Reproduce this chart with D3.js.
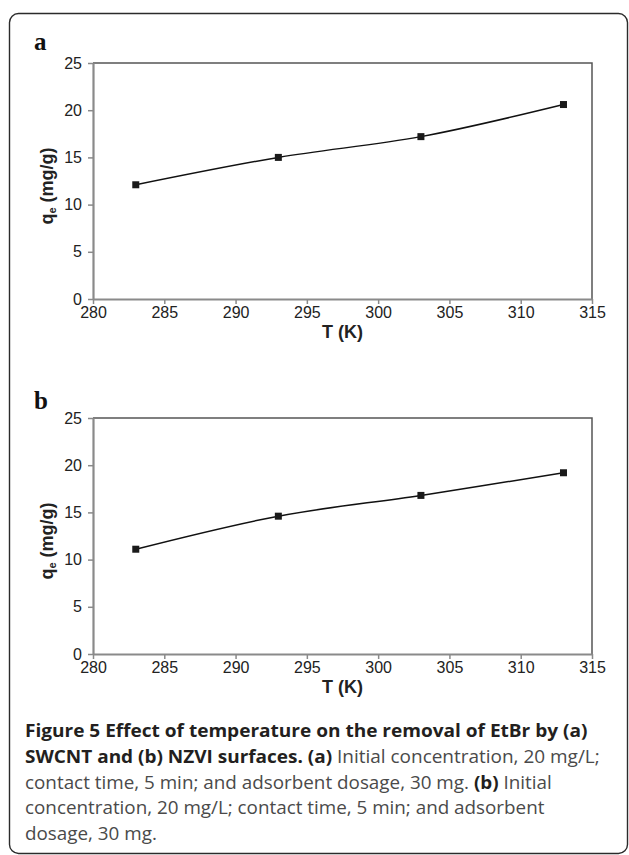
<!DOCTYPE html>
<html>
<head>
<meta charset="utf-8">
<script src="https://cdn.jsdelivr.net/npm/d3@7"></script>
<style>
  html, body { margin: 0; padding: 0; background: #fff; }
  svg { display: block; }
</style>
</head>
<body>
<svg id="chart" width="629" height="855"></svg>
<script>
// ---- Data ----
const temperatures = [283, 293, 303, 313];
const qeSWCNT = [12.1, 15.0, 17.2, 20.6];
const qeNZVI = [11.1, 14.6, 16.8, 19.2];
const xTickValues = [280, 285, 290, 295, 300, 305, 310, 315];
const yTickValues = [0, 5, 10, 15, 20, 25];
const panelLetters = ["a", "b"];
const xLabel = "T (K)";
const captionLines = [
  [["Figure 5 Effect of temperature on the removal of EtBr by (a)", true]],
  [["SWCNT and (b) NZVI surfaces. (a)", true], [" Initial concentration, 20 mg/L;", false]],
  [["contact time, 5 min; and adsorbent dosage, 30 mg. ", false], ["(b)", true], [" Initial", false]],
  [["concentration, 20 mg/L; contact time, 5 min; and adsorbent", false]],
  [["dosage, 30 mg.", false]]
];

// ---- Layout ----
const svg = d3.select("#chart");
const W = 629, H = 855;

svg.append("rect")
  .attr("x", 9.5).attr("y", 13.5)
  .attr("width", 618).attr("height", 840)
  .attr("rx", 9).attr("ry", 9)
  .attr("fill", "#fff").attr("stroke", "#2b2b2b").attr("stroke-width", 1.4);

const panels = [
  { letter: panelLetters[0], values: qeSWCNT, top: 63, bottom: 299, letterY: 50 },
  { letter: panelLetters[1], values: qeNZVI, top: 418, bottom: 654, letterY: 409 }
];
const left = 93, right = 592;
const font = "'Liberation Sans', Arial, Helvetica, sans-serif";

panels.forEach(p => {
  const x = d3.scaleLinear().domain([280, 315]).range([left, right]);
  const y = d3.scaleLinear().domain([0, 25]).range([p.bottom, p.top]);
  const g = svg.append("g");

  // panel letter
  g.append("text")
    .attr("x", 34).attr("y", p.letterY)
    .attr("font-family", "'Liberation Serif', 'Times New Roman', serif")
    .attr("font-weight", "bold").attr("font-size", 25)
    .attr("fill", "#111")
    .text(p.letter);

  // top/right frame
  g.append("path")
    .attr("d", `M${left},${p.top}H${right}V${p.bottom}`)
    .attr("fill", "none").attr("stroke", "#555").attr("stroke-width", 1.5);

  // x axis
  const xAxis = g.append("g")
    .attr("transform", `translate(0,${p.bottom})`)
    .call(d3.axisBottom(x).tickValues(xTickValues).tickSize(5).tickPadding(3).tickSizeOuter(0));
  xAxis.select(".domain").attr("stroke", "#8a8a8a").attr("stroke-width", 2.2);
  xAxis.selectAll(".tick line").attr("stroke", "#8a8a8a").attr("stroke-width", 1.5);
  xAxis.selectAll(".tick text")
    .attr("font-family", font).attr("font-size", 16).attr("fill", "#222");

  // y axis
  const yAxis = g.append("g")
    .attr("transform", `translate(${left},0)`)
    .call(d3.axisLeft(y).tickValues(yTickValues).tickSize(5).tickPadding(6).tickSizeOuter(0));
  yAxis.select(".domain").attr("stroke", "#8a8a8a").attr("stroke-width", 2.2);
  yAxis.selectAll(".tick line").attr("stroke", "#8a8a8a").attr("stroke-width", 1.5);
  yAxis.selectAll(".tick text")
    .attr("font-family", font).attr("font-size", 16).attr("fill", "#222");

  // x label
  g.append("text")
    .attr("x", (left + right) / 2).attr("y", p.bottom + 39)
    .attr("text-anchor", "middle")
    .attr("font-family", font).attr("font-weight", "bold").attr("font-size", 18)
    .attr("fill", "#222")
    .text(xLabel);

  // y label
  const yl = g.append("text")
    .attr("transform", `translate(53,${(p.top + p.bottom) / 2 + 5}) rotate(-90)`)
    .attr("text-anchor", "middle")
    .attr("font-family", font).attr("font-weight", "bold").attr("font-size", 18)
    .attr("fill", "#222");
  yl.append("tspan").text("q");
  yl.append("tspan").attr("font-size", 11).attr("dy", 3).text("e");
  yl.append("tspan").attr("dy", -3).text(" (mg/g)");

  // line
  const pts = temperatures.map((t, i) => [t, p.values[i]]);
  g.append("path")
    .datum(pts)
    .attr("fill", "none").attr("stroke", "#111").attr("stroke-width", 1.5)
    .attr("d", d3.line().x(d => x(d[0])).y(d => y(d[1])).curve(d3.curveCatmullRom.alpha(0)));

  // markers
  g.selectAll("rect.m").data(pts).enter().append("rect")
    .attr("class", "m")
    .attr("x", d => x(d[0]) - 3.5).attr("y", d => y(d[1]) - 3.5)
    .attr("width", 7).attr("height", 7)
    .attr("fill", "#1a1a1a");
});

// ---- Caption ----
const capX = 25;
const capBaselines = [737, 763, 788.5, 814, 840];
const capWidths = [563, 575, 527, 520, 132];
captionLines.forEach((line, i) => {
  const t = svg.append("text")
    .attr("font-family", "'Open Sans', 'Noto Sans', sans-serif")
    .attr("font-size", 18)
    .attr("x", 0).attr("y", 0);
  line.forEach(([s, bold]) => {
    t.append("tspan")
      .attr("font-weight", bold ? "bold" : "normal")
      .attr("fill", bold ? "#231f20" : "#4a4a4a")
      .text(s);
  });
  t.attr("xml:space", "preserve").style("white-space", "pre");
  const w = t.node().getComputedTextLength();
  const sx = capWidths[i] / w;
  t.attr("transform", `translate(${capX},${capBaselines[i]}) scale(${sx},1)`);
});
</script>
</body>
</html>
